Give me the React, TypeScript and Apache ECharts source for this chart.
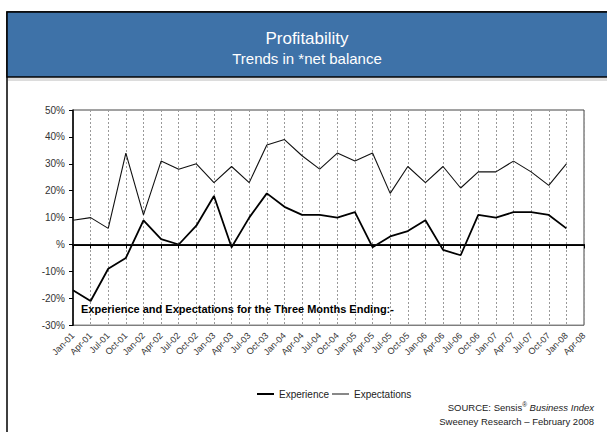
import React, { useEffect, useRef } from "react";
import * as echarts from "echarts";

const categories = [
  "Jan-01", "Apr-01", "Jul-01", "Oct-01",
  "Jan-02", "Apr-02", "Jul-02", "Oct-02",
  "Jan-03", "Apr-03", "Jul-03", "Oct-03",
  "Jan-04", "Apr-04", "Jul-04", "Oct-04",
  "Jan-05", "Apr-05", "Jul-05", "Oct-05",
  "Jan-06", "Apr-06", "Jul-06", "Oct-06",
  "Jan-07", "Apr-07", "Jul-07", "Oct-07",
  "Jan-08", "Apr-08",
];

const experience = [
  -17, -21, -9, -5,
  9, 2, 0, 7,
  18, -1, 10, 19,
  14, 11, 11, 10,
  12, -1, 3, 5,
  9, -2, -4, 11,
  10, 12, 12, 11,
  6,
];

const expectations = [
  9, 10, 6, 34,
  11, 31, 28, 30,
  23, 29, 23, 37,
  39, 33, 28, 34,
  31, 34, 19, 29,
  23, 29, 21, 27,
  27, 31, 27, 22,
  30,
];

const FONT = "'Liberation Sans', Arial, sans-serif";

export default function App() {
  const ref = useRef<HTMLDivElement>(null);

  useEffect(() => {
    if (!ref.current) return;
    const chart = echarts.init(ref.current, undefined, { renderer: "svg" });
    chart.setOption({
      animation: false,
      backgroundColor: "#ffffff",
      textStyle: { fontFamily: FONT },
      grid: {
        left: 73,
        right: 23,
        top: 110,
        bottom: 106.8,
        show: true,
        borderColor: "#444",
        borderWidth: 1,
      },
      legend: [
        {
          left: 252,
          top: 384,
          icon: "rect",
          itemWidth: 17,
          itemHeight: 2,
          itemGap: 6,
          textStyle: { fontSize: 10, color: "#222", fontFamily: FONT },
          data: ["Experience"],
        },
        {
          left: 327,
          top: 384,
          icon: "rect",
          itemWidth: 17,
          itemHeight: 1,
          itemGap: 6,
          textStyle: { fontSize: 10, color: "#222", fontFamily: FONT },
          data: ["Expectations"],
        },
      ],
      xAxis: {
        type: "category",
        data: categories,
        boundaryGap: false,
        axisLine: { lineStyle: { color: "#000", width: 2 } },
        axisTick: { show: true, alignWithLabel: true, length: 4, lineStyle: { color: "#000" } },
        axisLabel: {
          rotate: 45,
          fontSize: 9,
          color: "#333",
          margin: 9,
          interval: 0,
          fontFamily: FONT,
        },
        splitLine: {
          show: true,
          lineStyle: { color: "#999", type: [2, 2], width: 1 },
        },
      },
      yAxis: {
        type: "value",
        min: -30,
        max: 50,
        interval: 10,
        axisLine: { show: true, lineStyle: { color: "#000", width: 1.5 } },
        axisTick: { show: true, length: 4, lineStyle: { color: "#000" } },
        axisLabel: {
          fontSize: 10,
          color: "#333",
          margin: 8,
          fontFamily: FONT,
          formatter: (v: number) => (v === 0 ? "%" : v + "%"),
        },
        splitLine: { show: false },
      },
      series: [
        {
          name: "Experience",
          type: "line",
          data: experience,
          symbol: "none",
          lineStyle: { color: "#000", width: 1.8 },
          itemStyle: { color: "#000" },
          markLine: {
            silent: true,
            symbol: ["none", "none"],
            label: { show: false },
            lineStyle: { color: "#111", width: 1, type: "solid" },
            data: [{ yAxis: 0 }],
          },
        },
        {
          name: "Expectations",
          type: "line",
          data: expectations,
          symbol: "none",
          lineStyle: { color: "#111", width: 1.1 },
          itemStyle: { color: "#111" },
        },
      ],
      graphic: [
        {
          type: "rect",
          shape: { x: 7, y: 12, width: 620, height: 440 },
          style: { fill: "none", stroke: "#000", lineWidth: 1.5 },
          z: 0,
        },
        {
          type: "rect",
          shape: { x: 7, y: 12, width: 620, height: 65 },
          style: { fill: "#3e72a8", stroke: "#000", lineWidth: 1.5 },
          z: 1,
        },
        {
          type: "rect",
          shape: { x: 8, y: 78, width: 620, height: 3 },
          style: { fill: "#dcdcdc" },
          z: 1,
        },
        {
          type: "text",
          x: 307,
          y: 38,
          style: {
            text: "Profitability",
            fill: "#fff",
            fontSize: 17,
            fontFamily: FONT,
            textAlign: "center",
            textVerticalAlign: "middle",
          },
          z: 2,
        },
        {
          type: "text",
          x: 307,
          y: 58,
          style: {
            text: "Trends in *net balance",
            fill: "#fff",
            fontSize: 15,
            fontFamily: FONT,
            textAlign: "center",
            textVerticalAlign: "middle",
          },
          z: 2,
        },
        {
          type: "text",
          x: 81,
          y: 309,
          style: {
            text: "Experience and Expectations for the Three Months Ending:-",
            fill: "#000",
            fontSize: 11,
            fontWeight: "bold",
            fontFamily: FONT,
            textVerticalAlign: "middle",
          },
          z: 5,
        },
        {
          type: "text",
          x: 594,
          y: 407,
          style: {
            rich: {
              n: { fontSize: 9.5, fill: "#222", fontFamily: FONT },
              s: { fontSize: 6.5, fill: "#222", fontFamily: FONT, padding: [0, 0, 6, 0] },
              i: { fontSize: 9.5, fill: "#222", fontFamily: FONT, fontStyle: "italic" },
            },
            text: "{n|SOURCE: Sensis}{s|®}{i| Business Index}",
            textAlign: "right",
            textVerticalAlign: "middle",
          },
          z: 2,
        },
        {
          type: "text",
          x: 594,
          y: 421,
          style: {
            text: "Sweeney Research – February 2008",
            fill: "#222",
            fontSize: 9.5,
            fontFamily: FONT,
            textAlign: "right",
            textVerticalAlign: "middle",
          },
          z: 2,
        },
      ],
    });
    return () => chart.dispose();
  }, []);

  return (
    <div
      ref={ref}
      style={{ position: "fixed", left: 0, top: 0, width: 607, height: 432 }}
    />
  );
}
